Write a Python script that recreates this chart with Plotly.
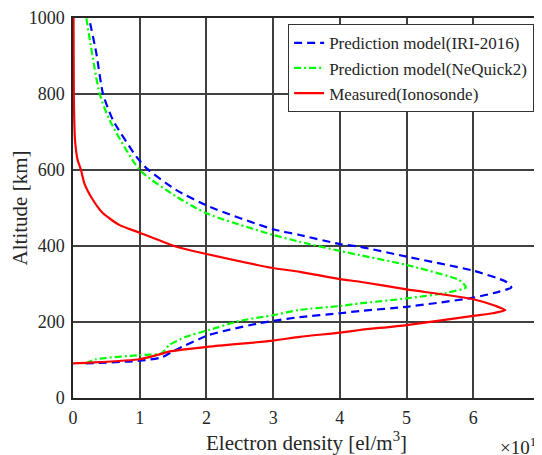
import plotly.graph_objects as go

# IRI-2016 prediction (density in 1e11 el/m^3, altitude km)
iri_alt = [91, 98, 107, 126, 166, 180, 197, 203, 213, 223, 229, 240, 264, 280, 291,
           306, 335, 372, 398, 405, 429, 444, 503, 547, 605, 635, 731, 800, 907, 1000]
iri_ne = [0.19, 1.0, 1.33, 1.53, 2.04, 2.35, 2.8, 3.0, 3.4, 4.0, 4.3, 5.0, 6.0, 6.39, 6.57,
          6.49, 6.0, 5.0, 4.3, 4.0, 3.4, 3.0, 2.05, 1.55, 1.1, 0.95, 0.6, 0.45, 0.35, 0.24]

# NeQuick2 prediction
neq_alt = [91, 102, 113, 118, 139, 161, 179, 203, 218, 232, 242, 249, 262, 277, 291,
           310, 350, 376, 387, 411, 429, 486, 530, 600, 731, 800, 1000]
neq_ne = [0.19, 0.34, 1.0, 1.33, 1.44, 1.69, 2.04, 2.5, 3.0, 3.4, 4.0, 4.3, 5.0, 5.6, 5.89,
          5.79, 5.0, 4.3, 4.0, 3.4, 3.0, 2.0, 1.55, 1.0, 0.55, 0.4, 0.2]

# Measured (ionosonde)
ion_alt = [91, 93, 102, 113, 122, 135, 151, 161, 172, 179, 192, 216, 223, 231, 242, 260, 286, 306,
           313, 332, 342, 379, 398, 435, 455, 486, 521, 565, 600, 626, 679, 800, 1000]
ion_ne = [0.0, 0.24, 1.0, 1.26, 1.44, 2.04, 3.0, 3.4, 4.0, 4.3, 5.0, 6.0, 6.29, 6.48, 6.34, 6.0, 5.0, 4.3,
          4.0, 3.4, 3.0, 2.0, 1.55, 1.0, 0.7, 0.45, 0.3, 0.17, 0.12, 0.07, 0.03, 0.012, 0.008]

x_ticks = [0, 1, 2, 3, 4, 5, 6, 7]
y_ticks = [0, 200, 400, 600, 800, 1000]

FONT = "Liberation Serif, Times New Roman, serif"
TXT = "#262626"

fig = go.Figure()
fig.add_trace(go.Scatter(x=iri_ne, y=iri_alt, mode="lines", name="Prediction model(IRI-2016)",
                         line=dict(color="#0000FF", width=2.2, dash="8px,5px", shape="spline", smoothing=0.6)))
fig.add_trace(go.Scatter(x=neq_ne, y=neq_alt, mode="lines", name="Prediction model(NeQuick2)",
                         line=dict(color="#00FF00", width=2.2, dash="7px,3px,2px,3px", shape="spline", smoothing=0.6)))
fig.add_trace(go.Scatter(x=ion_ne, y=ion_alt, mode="lines", name="Measured(Ionosonde)",
                         line=dict(color="#FF0000", width=2.2, shape="spline", smoothing=0.6)))

fig.update_layout(
    template="none",
    width=534, height=447,
    margin=dict(l=65, r=2, t=10, b=57),
    paper_bgcolor="white", plot_bgcolor="white",
    font=dict(family=FONT, size=18, color=TXT),
    showlegend=True,
    legend=dict(x=0.987, y=0.984, xanchor="right", yanchor="top",
                bgcolor="white", bordercolor="#333333", borderwidth=1.2,
                font=dict(family=FONT, size=17, color=TXT),
                tracegroupgap=0, itemwidth=30),
    annotations=[dict(text="\u00d710<sup>11</sup>", x=1.0, y=-0.125, xref="paper", yref="paper",
                      xanchor="right", yanchor="middle", showarrow=False, xshift=5,
                      font=dict(family=FONT, size=19, color=TXT))],
)
fig.update_xaxes(range=[0, 7], tickvals=x_ticks, ticktext=[str(v) for v in x_ticks],
                 tickfont=dict(family=FONT, size=18, color=TXT),
                 showgrid=True, gridcolor="#404040", gridwidth=1.5,
                 showline=True, linecolor="#262626", linewidth=1.5, mirror=True,
                 ticks="", zeroline=False, ticklabelstandoff=3,
                 title=dict(text="Electron density [el/m<sup>3</sup>]", standoff=5,
                            font=dict(family=FONT, size=21, color=TXT)))
fig.update_yaxes(range=[0, 1000], tickvals=y_ticks, ticktext=[str(v) for v in y_ticks],
                 tickfont=dict(family=FONT, size=18, color=TXT),
                 showgrid=True, gridcolor="#404040", gridwidth=1.5,
                 showline=True, linecolor="#262626", linewidth=1.5, mirror=True,
                 ticks="", zeroline=False, ticklabelstandoff=3,
                 title=dict(text="Altitude [km]", standoff=4,
                            font=dict(family=FONT, size=21, color=TXT)))

fig.write_html("out.html")
